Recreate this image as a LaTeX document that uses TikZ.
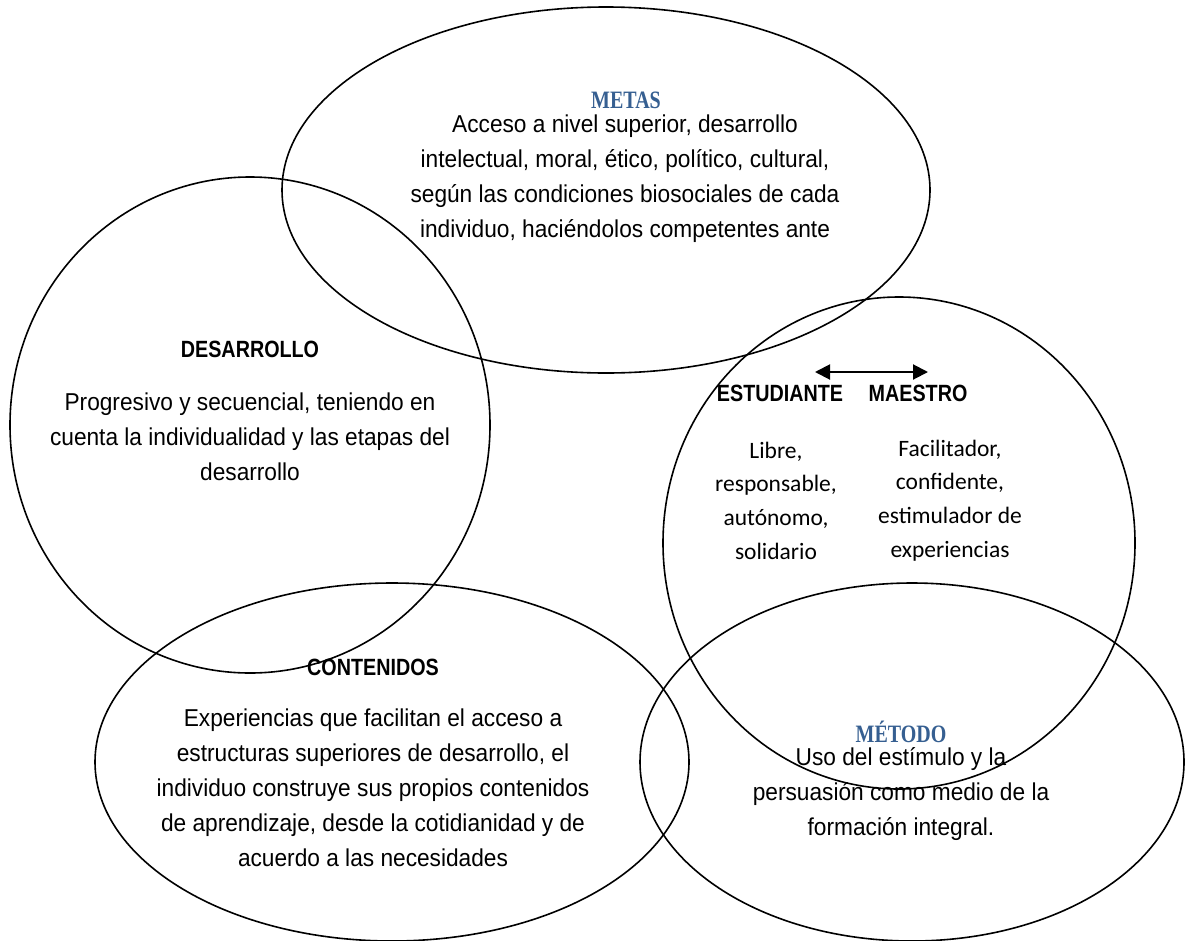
\documentclass[tikz,border=0pt]{standalone}
\usepackage{fontspec}
\setmainfont{Liberation Sans}
\newfontfamily\bodyfont[FakeStretch=0.93]{Liberation Sans}
\newfontfamily\capsfont[FakeStretch=0.84]{Liberation Sans}
\newfontfamily\headserif[FakeStretch=0.8]{Liberation Serif}
\newfontfamily\calibrifont{Carlito}
\usetikzlibrary{arrows.meta}
\definecolor{headblue}{RGB}{54,95,145}
\tikzset{
  ring/.style={line width=1.6pt},
  bodytext/.style={align=center, font=\bodyfont\fontsize{24.4}{35}\selectfont},
  capstitle/.style={font=\capsfont\bfseries\fontsize{23.5}{27}\selectfont},
  bluetitle/.style={text=headblue, font=\headserif\bfseries\fontsize{25}{29}\selectfont},
  roletext/.style={align=center, font=\calibrifont\fontsize{23.5}{33.7}\selectfont},
  roletip/.style={line width=2pt, {Triangle[length=15pt,width=15pt]}-{Triangle[length=15pt,width=15pt]}}
}

\begin{document}
\begin{tikzpicture}[x=1pt,y=-1pt]
\useasboundingbox (0,0) rectangle (1185,940);
\draw [ring] (606,190) ellipse [x radius=324, y radius=183];
\draw [ring] (250,425) ellipse [x radius=240, y radius=248];
\draw [ring] (899,543) ellipse [x radius=236, y radius=246];
\draw [ring] (392,762) ellipse [x radius=297, y radius=179];
\draw [ring] (912,762) ellipse [x radius=272, y radius=179];

\node [bluetitle] (metas) at (626,100) {METAS};
\node [bodytext] (metastxt) at (625,178.5) {Acceso a nivel superior, desarrollo\\intelectual, moral, ético, político, cultural,\\según las condiciones biosociales de cada\\individuo, haciéndolos competentes ante};

\node [capstitle] (desarrollo) at (250,349) {DESARROLLO};
\node [bodytext] (desarrollotxt) at (250,437) {Progresivo y secuencial, teniendo en\\cuenta la individualidad y las etapas del\\desarrollo};

\node [capstitle] (estudiante) at (780,393) {ESTUDIANTE};
\node [capstitle] (maestro) at (918,393) {MAESTRO};
\coordinate (tipleft) at (815,372);
\coordinate (tipright) at (928,372);
\draw [roletip] (tipleft) -- (tipright);
\node [roletext] (estudiantetxt) at (776,500.5) {Libre,\\responsable,\\autónomo,\\solidario};
\node [roletext] (maestrotxt) at (950,500.5) {Facilitador,\\confidente,\\estimulador de\\experiencias};

\node [capstitle] (contenidos) at (373,667) {CONTENIDOS};
\node [bodytext] (contenidostxt) at (373,788) {Experiencias que facilitan el acceso a\\estructuras superiores de desarrollo, el\\individuo construye sus propios contenidos\\de aprendizaje, desde la cotidianidad y de\\acuerdo a las necesidades};

\node [bluetitle] (metodo) at (901,732) {MÉTODO};
\node [bodytext] (metodotxt) at (901,794) {Uso del estímulo y la\\persuasión como medio de la\\formación integral.};
\end{tikzpicture}
\end{document}
